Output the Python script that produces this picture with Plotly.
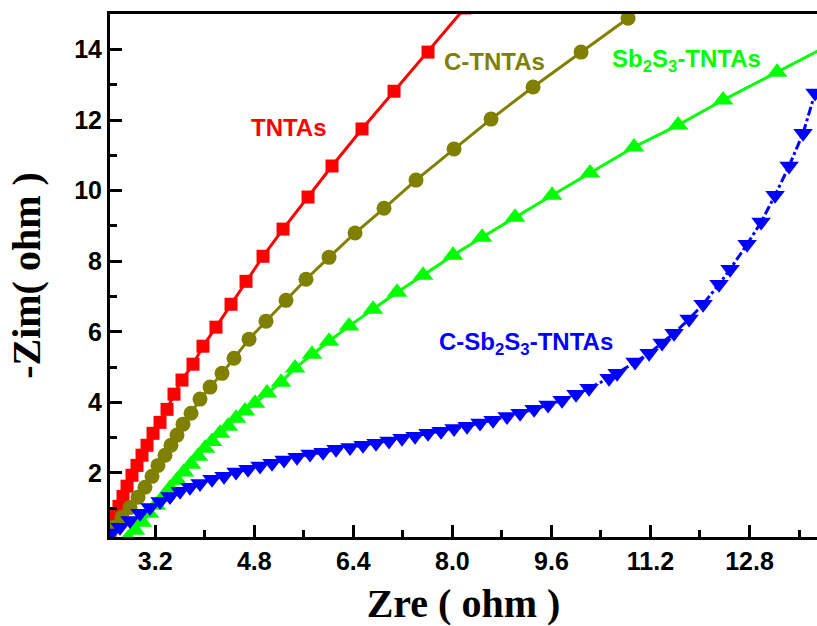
import plotly.graph_objects as go

# ---------------- data ----------------
tntas_x = [2.470, 2.502, 2.551, 2.615, 2.680, 2.745, 2.825, 2.906, 2.987, 3.068,
           3.165, 3.278, 3.391, 3.504, 3.633, 3.811, 3.972, 4.182, 4.425, 4.667,
           4.942, 5.265, 5.669, 6.056, 6.541, 7.058, 7.607, 8.200]
tntas_y = [0.29, 0.48, 0.77, 1.05, 1.33, 1.62, 1.93, 2.21, 2.50, 2.78,
           3.12, 3.43, 3.80, 4.23, 4.63, 5.08, 5.59, 6.13, 6.78, 7.43,
           8.14, 8.91, 9.82, 10.70, 11.75, 12.82, 13.93, 15.18]

ctntas_x = [2.470, 2.535, 2.664, 2.793, 2.922, 3.035, 3.149, 3.245, 3.359, 3.455,
            3.552, 3.649, 3.779, 3.924, 4.086, 4.279, 4.473, 4.716, 4.990, 5.313,
            5.636, 6.008, 6.428, 6.896, 7.413, 8.027, 8.625, 9.304, 10.079, 10.838]
ctntas_y = [0.31, 0.46, 0.74, 1.02, 1.31, 1.59, 1.90, 2.21, 2.50, 2.78,
            3.07, 3.38, 3.69, 4.09, 4.43, 4.82, 5.25, 5.79, 6.30, 6.89,
            7.49, 8.11, 8.80, 9.50, 10.30, 11.18, 12.03, 12.94, 13.93, 14.89]

sbs_x = [2.761, 2.874, 2.987, 3.100, 3.213, 3.326, 3.439, 3.552, 3.665, 3.779,
         3.892, 4.005, 4.118, 4.247, 4.376, 4.506, 4.651, 4.812, 5.006, 5.233,
         5.459, 5.733, 6.008, 6.331, 6.719, 7.107, 7.527, 8.011, 8.480, 9.013,
         9.611, 10.224, 10.935, 11.646, 12.373, 13.245, 14.118]
sbs_y = [0.14, 0.37, 0.60, 0.85, 1.08, 1.31, 1.56, 1.79, 2.02, 2.24,
         2.47, 2.70, 2.89, 3.12, 3.32, 3.55, 3.75, 3.97, 4.26, 4.57,
         4.97, 5.36, 5.73, 6.16, 6.64, 7.12, 7.60, 8.17, 8.68, 9.25,
         9.87, 10.50, 11.24, 11.86, 12.57, 13.36, 14.16]

csbs_x = [2.486, 2.632, 2.793, 2.955, 3.116, 3.278, 3.439, 3.601, 3.762, 3.924,
          4.118, 4.312, 4.506, 4.699, 4.893, 5.087, 5.281, 5.491, 5.701, 5.911,
          6.121, 6.347, 6.557, 6.767, 6.977, 7.187, 7.397, 7.607, 7.817, 8.027,
          8.237, 8.447, 8.657, 8.884, 9.094, 9.320, 9.546, 9.772, 9.998, 10.208,
          10.531, 10.661, 10.951, 11.178, 11.388, 11.581, 11.824, 12.050, 12.308, 12.486,
          12.761, 12.987, 13.213, 13.439, 13.665, 13.859]
csbs_y = [0.29, 0.46, 0.65, 0.85, 1.02, 1.19, 1.33, 1.48, 1.59, 1.70,
          1.82, 1.90, 2.02, 2.10, 2.19, 2.27, 2.36, 2.44, 2.53, 2.58,
          2.67, 2.72, 2.78, 2.84, 2.90, 2.98, 3.04, 3.12, 3.18, 3.26,
          3.32, 3.41, 3.49, 3.60, 3.69, 3.80, 3.92, 4.06, 4.23, 4.40,
          4.68, 4.82, 5.14, 5.39, 5.68, 5.96, 6.36, 6.78, 7.35, 7.77,
          8.48, 9.11, 9.87, 10.70, 11.63, 12.77]

x_range = [2.47, 13.89]
y_range = [0.18, 15.01]

# ---------------- figure ----------------
fig = go.Figure()

fig.add_trace(go.Scatter(
    x=tntas_x, y=tntas_y, mode="lines+markers", name="TNTAs",
    line=dict(color="#FF0000", width=3),
    marker=dict(symbol="square", size=13, color="#FF0000")))

fig.add_trace(go.Scatter(
    x=ctntas_x, y=ctntas_y, mode="lines+markers", name="C-TNTAs",
    line=dict(color="#808000", width=3),
    marker=dict(symbol="circle", size=15, color="#808000")))

fig.add_trace(go.Scatter(
    x=sbs_x, y=sbs_y, mode="lines+markers", name="Sb2S3-TNTAs",
    line=dict(color="#00FF00", width=3),
    marker=dict(symbol="triangle-up", size=18, color="#00FF00")))

fig.add_trace(go.Scatter(
    x=csbs_x, y=csbs_y, mode="lines+markers", name="C-Sb2S3-TNTAs",
    line=dict(color="#0000FF", width=3, dash="dashdot"),
    marker=dict(symbol="triangle-down", size=17, color="#0000FF")))

tick_font = dict(family="Liberation Sans, Arial", size=25, color="black", weight="bold")
title_font = dict(family="Liberation Serif, Times New Roman", size=40, color="black", weight="bold")

fig.update_xaxes(
    range=x_range, tickmode="linear", tick0=3.2, dtick=1.6, tickformat=".1f",
    ticks="inside", ticklen=12, tickwidth=3, tickcolor="black",
    showline=True, linewidth=3, linecolor="black", mirror=True,
    showgrid=False, zeroline=False, tickfont=tick_font,
    minor=dict(ticks="inside", ticklen=7, tickwidth=3, tickcolor="black",
               tick0=3.2, dtick=0.8, showgrid=False),
    title=dict(text="Zre ( ohm )", font=title_font, standoff=19),
    automargin=False)

fig.update_yaxes(
    range=y_range, tickmode="linear", tick0=0, dtick=2,
    ticks="inside", ticklen=12, tickwidth=3, tickcolor="black",
    showline=True, linewidth=3, linecolor="black", mirror=False,
    showgrid=False, zeroline=False, tickfont=tick_font,
    minor=dict(ticks="inside", ticklen=7, tickwidth=3, tickcolor="black",
               tick0=0, dtick=1, showgrid=False),
    title=dict(text="-Zim( ohm )", font=title_font, standoff=22),
    automargin=False)

label_font = dict(family="Liberation Sans, Arial", size=24, weight="bold")
labels = [
    ("TNTAs", "#FF0000", 0.2525, 0.783),
    ("C-TNTAs", "#808000", 0.544, 0.910),
    ("Sb<sub>2</sub>S<sub>3</sub>-TNTAs", "#00FF00", 0.815, 0.911),
    ("C-Sb<sub>2</sub>S<sub>3</sub>-TNTAs", "#0000FF", 0.588, 0.370),
]
for text, color, xp, yp in labels:
    fig.add_annotation(text=text, x=xp, y=yp, xref="paper", yref="paper",
                       showarrow=False, xanchor="center", yanchor="middle",
                       font=dict(color=color, **label_font))

fig.update_layout(
    width=817, height=626,
    margin=dict(l=110, r=0, t=14, b=89),
    paper_bgcolor="white", plot_bgcolor="white",
    showlegend=False, hovermode=False)

fig.write_html("out.html",
               config={"displayModeBar": False, "staticPlot": True},
               post_script="document.body.style.margin='0';document.body.style.overflow='hidden';")
